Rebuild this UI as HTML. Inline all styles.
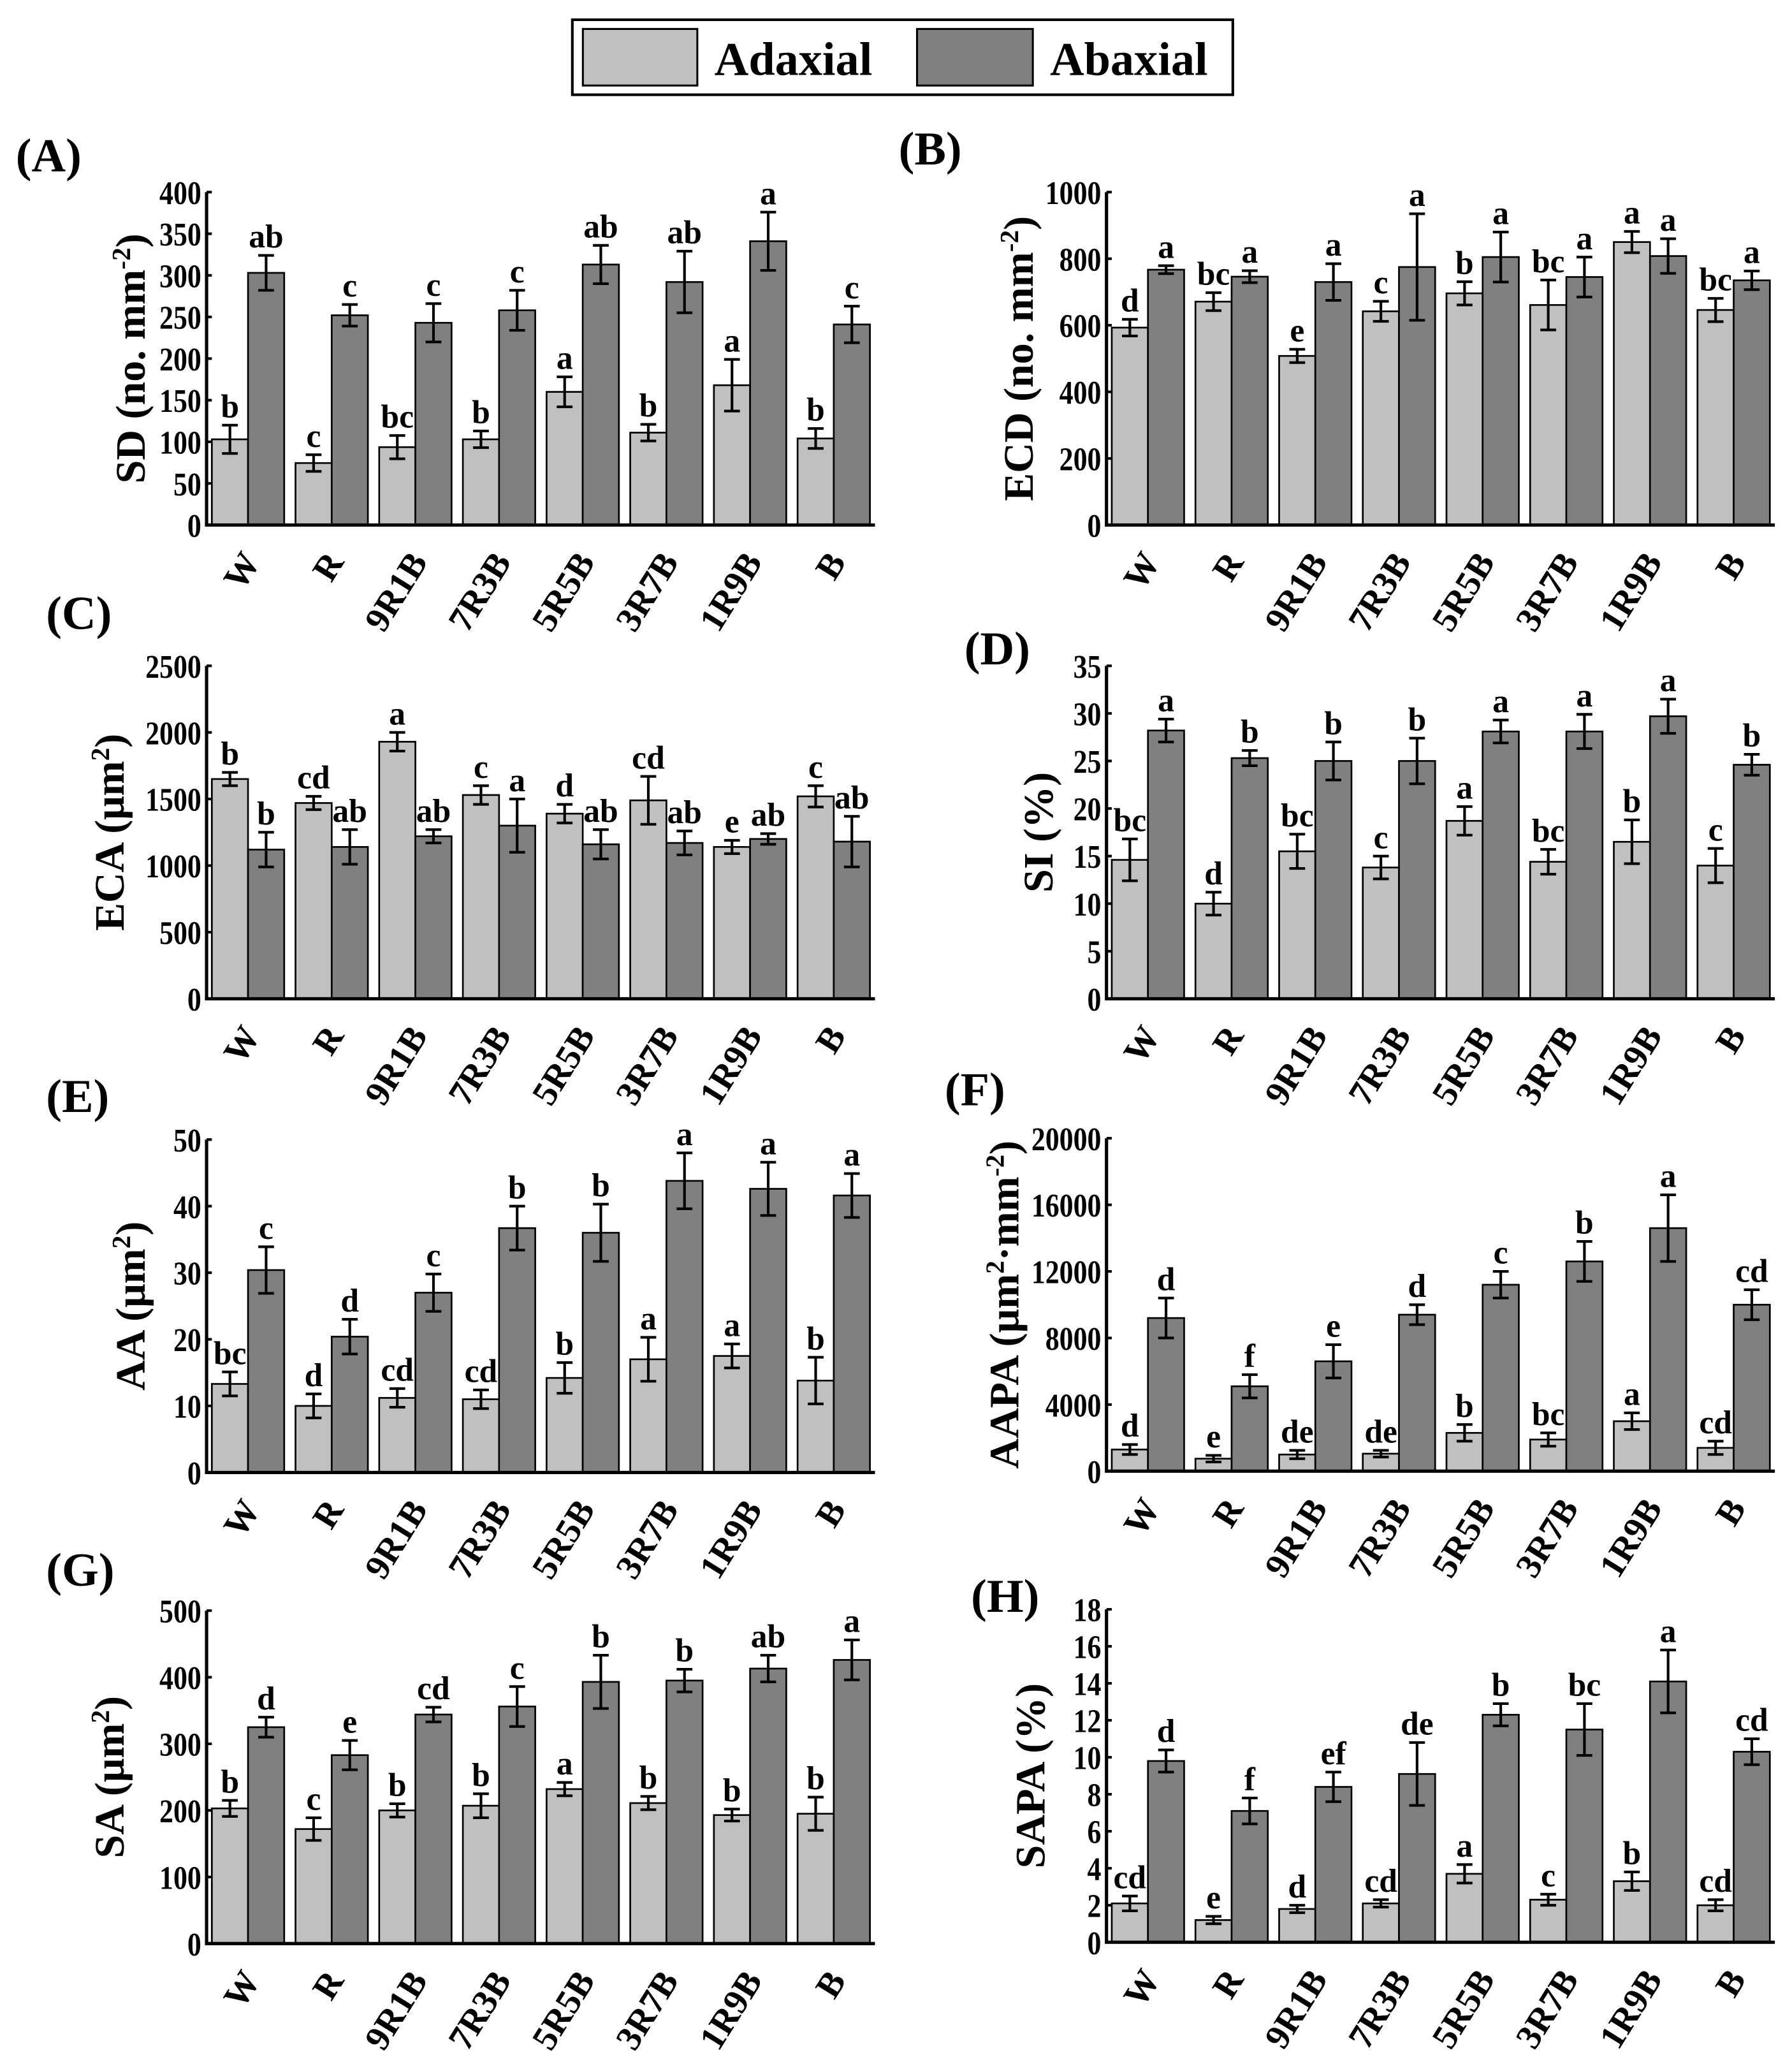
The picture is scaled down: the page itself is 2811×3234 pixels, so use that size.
<!DOCTYPE html>
<html><head><meta charset="utf-8"><style>
html,body{margin:0;padding:0;background:#fff}
svg{display:block}
text{font-family:"Liberation Serif",serif;font-weight:bold;fill:#000}
</style></head><body>
<svg id="fig" width="2811" height="3234" viewBox="0 0 1362 1567" xmlns="http://www.w3.org/2000/svg">
<g>
<rect x="435" y="15" width="502" height="57" fill="#fff" stroke="#000" stroke-width="2"/>
<rect x="443" y="22" width="87" height="43" fill="#c0c0c0" stroke="#000" stroke-width="1.5"/>
<text x="543" y="57" font-size="36">Adaxial</text>
<rect x="697" y="22" width="88" height="43" fill="#808080" stroke="#000" stroke-width="1.5"/>
<text x="798" y="57" font-size="36">Abaxial</text>
</g>
</svg>
<script>
const categories=["W","R","9R1B","7R3B","5R5B","3R7B","1R9B","B"];
const sdAd=[103,74.5,93.6,103,160,111,168,104], sdAdE=[17,10,14,10,18,10,31,12];
const sdAb=[303,252,243,258,313,292,341,241], sdAbE=[21,13,23,24,23,37,35,22];
const sdL1=["b","c","bc","b","a","b","a","b"], sdL2=["ab","c","c","c","ab","ab","a","c"];
const ecdAd=[593,671,508,642,696,661,850,646], ecdAdE=[25,27,20,30,35,75,32,35];
const ecdAb=[767,746,730,775,805,745,808,735], ecdAbE=[12,18,55,160,75,60,52,28];
const ecdL1=["d","bc","e","c","b","bc","a","bc"], ecdL2=["a","a","a","a","a","a","a","a"];
const ecaAd=[1650,1470,1930,1530,1390,1490,1140,1520], ecaAdE=[50,50,70,70,70,180,50,80];
const ecaAb=[1120,1140,1220,1300,1160,1170,1200,1180], ecaAbE=[130,130,50,200,110,90,40,190];
const ecaL1=["b","cd","a","c","d","cd","e","c"], ecaL2=["b","ab","ab","a","ab","ab","ab","ab"];
const siAd=[14.6,10,15.5,13.8,18.7,14.4,16.5,14], siAdE=[2.2,1.2,1.8,1.2,1.5,1.3,2.3,1.8];
const siAb=[28.2,25.3,25,25,28.1,28.1,29.7,24.6], siAbE=[1.2,0.8,2,2.4,1.2,1.8,1.8,1.1];
const siL1=["bc","d","bc","c","a","bc","b","c"], siL2=["a","b","b","b","a","a","a","b"];
const aaAd=[13.3,10,11.2,11,14.2,17,17.5,13.8], aaAdE=[1.8,1.8,1.4,1.4,2.3,3.3,1.8,3.5];
const aaAb=[30.4,20.4,27,36.7,36,43.8,42.6,41.6], aaAbE=[3.5,2.6,2.8,3.3,4.3,4.2,4,3.3];
const aaL1=["bc","d","cd","cd","b","a","a","b"], aaL2=["c","d","c","b","b","a","a","a"];
const aapaAd=[1300,750,1000,1050,2300,1900,3000,1400], aapaAdE=[300,200,250,200,500,400,500,400];
const aapaAb=[9200,5100,6600,9400,11200,12600,14600,10000], aapaAbE=[1200,700,1000,600,800,1200,2000,900];
const aapaL1=["d","e","de","de","b","bc","a","cd"], aapaL2=["d","f","e","d","c","b","a","cd"];
const saAd=[203,172,200,207,232,211,193,195], saAdE=[12,17,10,18,10,10,9,25];
const saAb=[325,283,344,356,393,395,413,426], saAbE=[15,22,11,30,40,17,20,30];
const saL1=["b","c","b","b","a","b","b","b"], saL2=["d","e","cd","c","b","b","ab","a"];
const sapaAd=[2.1,1.2,1.8,2.1,3.7,2.3,3.3,2.0], sapaAdE=[0.4,0.2,0.2,0.2,0.5,0.3,0.5,0.3];
const sapaAb=[9.8,7.1,8.4,9.1,12.3,11.5,14.1,10.3], sapaAbE=[0.6,0.7,0.8,1.7,0.6,1.4,1.7,0.7];
const sapaL1=["cd","e","d","cd","a","c","b","cd"], sapaL2=["d","f","ef","de","b","bc","a","cd"];
const ticksA=[0,50,100,150,200,250,300,350,400];
const ticksB=[0,200,400,600,800,1000];
const ticksC=[0,500,1000,1500,2000,2500];
const ticksD=[0,5,10,15,20,25,30,35];
const ticksE=[0,10,20,30,40,50];
const ticksF=[0,4000,8000,12000,16000,20000];
const ticksG=[0,100,200,300,400,500];
const ticksH=[0,2,4,6,8,10,12,14,16,18];

const NS="http://www.w3.org/2000/svg";
const svg=document.getElementById('fig');
function mk(tag,attrs,parent){const e=document.createElementNS(NS,tag);for(const k in attrs)e.setAttribute(k,attrs[k]);parent.appendChild(e);return e;}

function panel(o){
  const g=mk('g',{},svg);
  
  
  const ax=o.ax, top=o.top, bot=o.top+253, xEnd=ax+508, max=o.ticks[o.ticks.length-1];
  const y=v=>bot-(v/max)*(bot-top);
  const bw=27.5, pitch=63.6, x0=ax+4;
  const t=mk('text',{x:o.tx,y:o.ty,'font-size':36},g); t.textContent='('+o.id+')';
  
  
  for(let i=0;i<categories.length;i++){
    const gx=x0+i*pitch;
    [[o.ad,o.adE,o.l1,'#c0c0c0',0,'adaxial'],[o.ab,o.abE,o.l2,'#808080',1,'abaxial']].forEach(s=>{
      const v=s[0][i], e=s[1][i], bx=gx+s[4]*bw;
      const r=mk('rect',{x:bx,y:y(v),width:bw,height:bot-y(v),fill:s[3],stroke:'#000','stroke-width':1.3},g);
      
      
      const cx=bx+bw/2;
      const eb=mk('path',{d:`M${cx},${y(v+e)}V${y(v-e)}M${cx-6},${y(v+e)}H${cx+6}M${cx-6},${y(v-e)}H${cx+6}`,stroke:'#000','stroke-width':2,fill:'none'},g);
      
      
      const lt=mk('text',{x:cx,y:y(v+e)-6,'font-size':25,'text-anchor':'middle'},g); lt.textContent=s[2][i];
      
      
    });
    const cx=gx+bw;
    const ly=bot+28;
    const xl=mk('text',{x:cx+10,y:ly,'font-size':27,'text-anchor':'end',transform:`rotate(-58 ${cx+10} ${ly})`},g);
    xl.textContent=categories[i];
    
    
  }
  const a=mk('path',{d:`M${ax},${top}V${bot}H${xEnd}`,stroke:'#000','stroke-width':2.5,fill:'none'},g);
  
  
  o.ticks.forEach(tv=>{
    mk('line',{x1:ax,x2:ax+4,y1:y(tv),y2:y(tv),stroke:'#000','stroke-width':2},g);
    const tl=mk('text',{x:ax-4,y:y(tv)+9,'font-size':25,'text-anchor':'end','font-family':'Liberation Serif','transform':`translate(${ax-4} 0) scale(0.85 1) translate(${-(ax-4)} 0)`},g); tl.textContent=tv;
    
    
  });
  const yc=(top+bot)/2;
  const yl=mk('text',{x:o.lx,y:yc,'font-size':32,'text-anchor':'middle','font-family':'Liberation Serif',transform:`rotate(-90 ${o.lx} ${yc})`},g);
  o.label.forEach(p=>{
    const ts=mk('tspan',{},yl);
    if(p[1]){ts.setAttribute('baseline-shift','super');ts.setAttribute('font-size','20');}
    ts.textContent=p[0];
  });
  
  
}
panel({id:'A',ax:157,top:146,tx:12,ty:130,lx:110,ticks:ticksA,ad:sdAd,adE:sdAdE,ab:sdAb,abE:sdAbE,l1:sdL1,l2:sdL2,label:[['SD (no. mm'],['-2',1],[')']]});
panel({id:'B',ax:841,top:146,tx:683,ty:125,lx:785,ticks:ticksB,ad:ecdAd,adE:ecdAdE,ab:ecdAb,abE:ecdAbE,l1:ecdL1,l2:ecdL2,label:[['ECD (no. mm'],['-2',1],[')']]});
panel({id:'C',ax:157,top:506,tx:35,ty:478,lx:94,ticks:ticksC,ad:ecaAd,adE:ecaAdE,ab:ecaAb,abE:ecaAbE,l1:ecaL1,l2:ecaL2,label:[['ECA (μm'],['2',1],[')']]});
panel({id:'D',ax:841,top:506,tx:733,ty:505,lx:800,ticks:ticksD,ad:siAd,adE:siAdE,ab:siAb,abE:siAbE,l1:siL1,l2:siL2,label:[['SI (%)']]});
panel({id:'E',ax:157,top:866,tx:35,ty:845,lx:110,ticks:ticksE,ad:aaAd,adE:aaAdE,ab:aaAb,abE:aaAbE,l1:aaL1,l2:aaL2,label:[['AA (μm'],['2',1],[')']]});
panel({id:'F',ax:841,top:865,tx:718,ty:840,lx:774,ticks:ticksF,ad:aapaAd,adE:aapaAdE,ab:aapaAb,abE:aapaAbE,l1:aapaL1,l2:aapaL2,label:[['AAPA (μm'],['2',1],['·mm'],['-2',1],[')']]});
panel({id:'G',ax:157,top:1224,tx:35,ty:1205,lx:94,ticks:ticksG,ad:saAd,adE:saAdE,ab:saAb,abE:saAbE,l1:saL1,l2:saL2,label:[['SA (μm'],['2',1],[')']]});
panel({id:'H',ax:841,top:1223,tx:738,ty:1225,lx:794,ticks:ticksH,ad:sapaAd,adE:sapaAdE,ab:sapaAb,abE:sapaAbE,l1:sapaL1,l2:sapaL2,label:[['SAPA (%)']]});
</script>
</body></html>
